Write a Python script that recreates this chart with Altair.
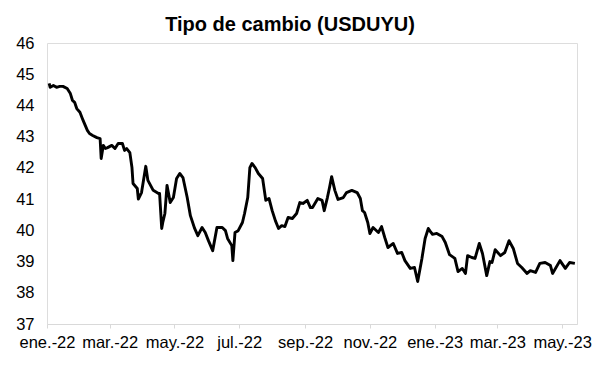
import altair as alt
import pandas as pd

dates = [
    "2022-01-03", "2022-01-04", "2022-01-07", "2022-01-10", "2022-01-13", "2022-01-16",
    "2022-01-20", "2022-01-23", "2022-01-25", "2022-01-27", "2022-01-29", "2022-02-01",
    "2022-02-04", "2022-02-06", "2022-02-08", "2022-02-10", "2022-02-13", "2022-02-17",
    "2022-02-20", "2022-02-21", "2022-02-23", "2022-02-25", "2022-02-27", "2022-03-03",
    "2022-03-06", "2022-03-09", "2022-03-13", "2022-03-15", "2022-03-17", "2022-03-20",
    "2022-03-22", "2022-03-23", "2022-03-27", "2022-03-28", "2022-03-31", "2022-04-04",
    "2022-04-06", "2022-04-11", "2022-04-16", "2022-04-17", "2022-04-19", "2022-04-20",
    "2022-04-22", "2022-04-24", "2022-04-27", "2022-04-30", "2022-05-03", "2022-05-06",
    "2022-05-09", "2022-05-13", "2022-05-16", "2022-05-20", "2022-05-23", "2022-05-27",
    "2022-05-30", "2022-06-02", "2022-06-06", "2022-06-10", "2022-06-15", "2022-06-18",
    "2022-06-20", "2022-06-24", "2022-06-25", "2022-06-27", "2022-06-30", "2022-07-04",
    "2022-07-06", "2022-07-09", "2022-07-11", "2022-07-13", "2022-07-16", "2022-07-19",
    "2022-07-23", "2022-07-26", "2022-07-29", "2022-08-01", "2022-08-04", "2022-08-07",
    "2022-08-10", "2022-08-13", "2022-08-16", "2022-08-20", "2022-08-24", "2022-08-27",
    "2022-08-30", "2022-09-03", "2022-09-06", "2022-09-08", "2022-09-13", "2022-09-17",
    "2022-09-19", "2022-09-22", "2022-09-24", "2022-09-26", "2022-09-29", "2022-10-02",
    "2022-10-07", "2022-10-10", "2022-10-15", "2022-10-20", "2022-10-23", "2022-10-25",
    "2022-10-27", "2022-10-30", "2022-11-01", "2022-11-04", "2022-11-09", "2022-11-12",
    "2022-11-15", "2022-11-18", "2022-11-23", "2022-11-27", "2022-12-01", "2022-12-04",
    "2022-12-09", "2022-12-13", "2022-12-16", "2022-12-20", "2022-12-23", "2022-12-26",
    "2022-12-28", "2022-12-30", "2023-01-03", "2023-01-08", "2023-01-11", "2023-01-15",
    "2023-01-20", "2023-01-23", "2023-01-27", "2023-01-30", "2023-02-01", "2023-02-05",
    "2023-02-08", "2023-02-12", "2023-02-15", "2023-02-19", "2023-02-22", "2023-02-24",
    "2023-02-27", "2023-03-04", "2023-03-08", "2023-03-12", "2023-03-16", "2023-03-20",
    "2023-03-24", "2023-03-29", "2023-04-01", "2023-04-06", "2023-04-10", "2023-04-15",
    "2023-04-20", "2023-04-22", "2023-04-29", "2023-05-04", "2023-05-08", "2023-05-13",
]

usduyu = [
    44.71, 44.58, 44.64, 44.58, 44.61, 44.61,
    44.54, 44.38, 44.16, 44.10, 43.90, 43.78,
    43.52, 43.36, 43.20, 43.10, 43.04, 42.97,
    42.94, 42.30, 42.72, 42.62, 42.65, 42.72,
    42.62, 42.78, 42.78, 42.56, 42.62, 42.49,
    42.01, 41.50, 41.34, 41.00, 41.21, 42.05,
    41.60, 41.28, 41.18, 41.18, 40.06, 40.25,
    40.54, 41.44, 40.89, 41.05, 41.66, 41.82,
    41.69, 41.05, 40.47, 40.06, 39.83, 40.09,
    39.93, 39.67, 39.35, 40.09, 40.09, 39.99,
    39.74, 39.51, 39.03, 39.93, 39.99, 40.25,
    40.54, 41.05, 42.01, 42.14, 42.01, 41.82,
    41.66, 40.96, 41.02, 40.63, 40.31, 40.06,
    40.15, 40.12, 40.41, 40.38, 40.54, 40.89,
    40.86, 40.96, 40.73, 40.73, 41.02, 40.96,
    40.63, 41.05, 41.37, 41.72, 41.28, 40.99,
    41.05, 41.21, 41.28, 41.21, 41.02, 40.63,
    40.57, 40.25, 39.90, 40.09, 39.93, 40.12,
    39.77, 39.45, 39.58, 39.26, 39.29, 39.03,
    38.78, 38.81, 38.36, 39.10, 39.74, 40.06,
    39.96, 39.87, 39.90, 39.80, 39.61, 39.22,
    39.10, 38.68, 38.78, 38.62, 39.19, 39.13,
    39.10, 39.58, 39.26, 38.55, 39.00, 38.97,
    39.38, 39.19, 39.29, 39.67, 39.42, 38.94,
    38.81, 38.62, 38.71, 38.65, 38.94, 38.97,
    38.87, 38.62, 39.03, 38.78, 38.97, 38.94,
]

y_ticks = [37, 38, 39, 40, 41, 42, 43, 44, 45, 46]
x_tick_months = [(2022, 1), (2022, 3), (2022, 5), (2022, 7), (2022, 9), (2022, 11),
                 (2023, 1), (2023, 3), (2023, 5)]
month_labels = ["ene.", "feb.", "mar.", "abr.", "may.", "jun.",
                "jul.", "ago.", "sep.", "oct.", "nov.", "dic."]

df = pd.DataFrame({"fecha": dates, "valor": usduyu})

month_arr = "[" + ",".join("'%s'" % m for m in month_labels) + "]"
label_expr = month_arr + "[utcmonth(datum.value)] + '-' + utcFormat(datum.value, '%y')"

x_values = [alt.DateTime(year=y, month=m, date=1, utc=True) for (y, m) in x_tick_months]

chart = alt.Chart(df).mark_line(
    color="#000000", strokeWidth=2.9, strokeJoin="round"
).encode(
    x=alt.X(
        "fecha:T",
        scale=alt.Scale(
            type="utc",
            domain=[alt.DateTime(year=2022, month=1, date=1, utc=True),
                    alt.DateTime(year=2023, month=5, date=15, utc=True)],
        ),
        axis=alt.Axis(
            title=None,
            values=x_values,
            labelExpr=label_expr,
            labelOverlap=False,
            labelFlush=False,
            labelFont="Liberation Sans",
            labelFontSize=16.5,
            labelColor="#000000",
            labelPadding=6,
            tickSize=4,
            tickColor="#d9d9d9",
            domainColor="#d9d9d9",
            domainWidth=1,
            grid=False,
        ),
    ),
    y=alt.Y(
        "valor:Q",
        scale=alt.Scale(domain=[37, 46], nice=False, zero=False),
        axis=alt.Axis(
            title=None,
            values=y_ticks,
            labelFont="Liberation Sans",
            labelFontSize=16.5,
            labelColor="#000000",
            labelPadding=13,
            ticks=False,
            domain=False,
            grid=False,
        ),
    ),
).properties(
    width=530,
    height=281,
    title=alt.TitleParams(
        text="Tipo de cambio (USDUYU)",
        font="Liberation Sans",
        fontSize=20,
        fontWeight="bold",
        color="#000000",
        anchor="middle",
        frame="group",
        baseline="alphabetic",
        offset=-16,
        dx=-22,
    ),
    autosize=alt.AutoSizeParams(type="none"),
    padding={"left": 47, "top": 43, "right": 31, "bottom": 45},
).configure_view(
    stroke=None
).configure(
    background="#ffffff"
)

chart.save("out.html", embed_options={"renderer": "svg", "actions": False})
